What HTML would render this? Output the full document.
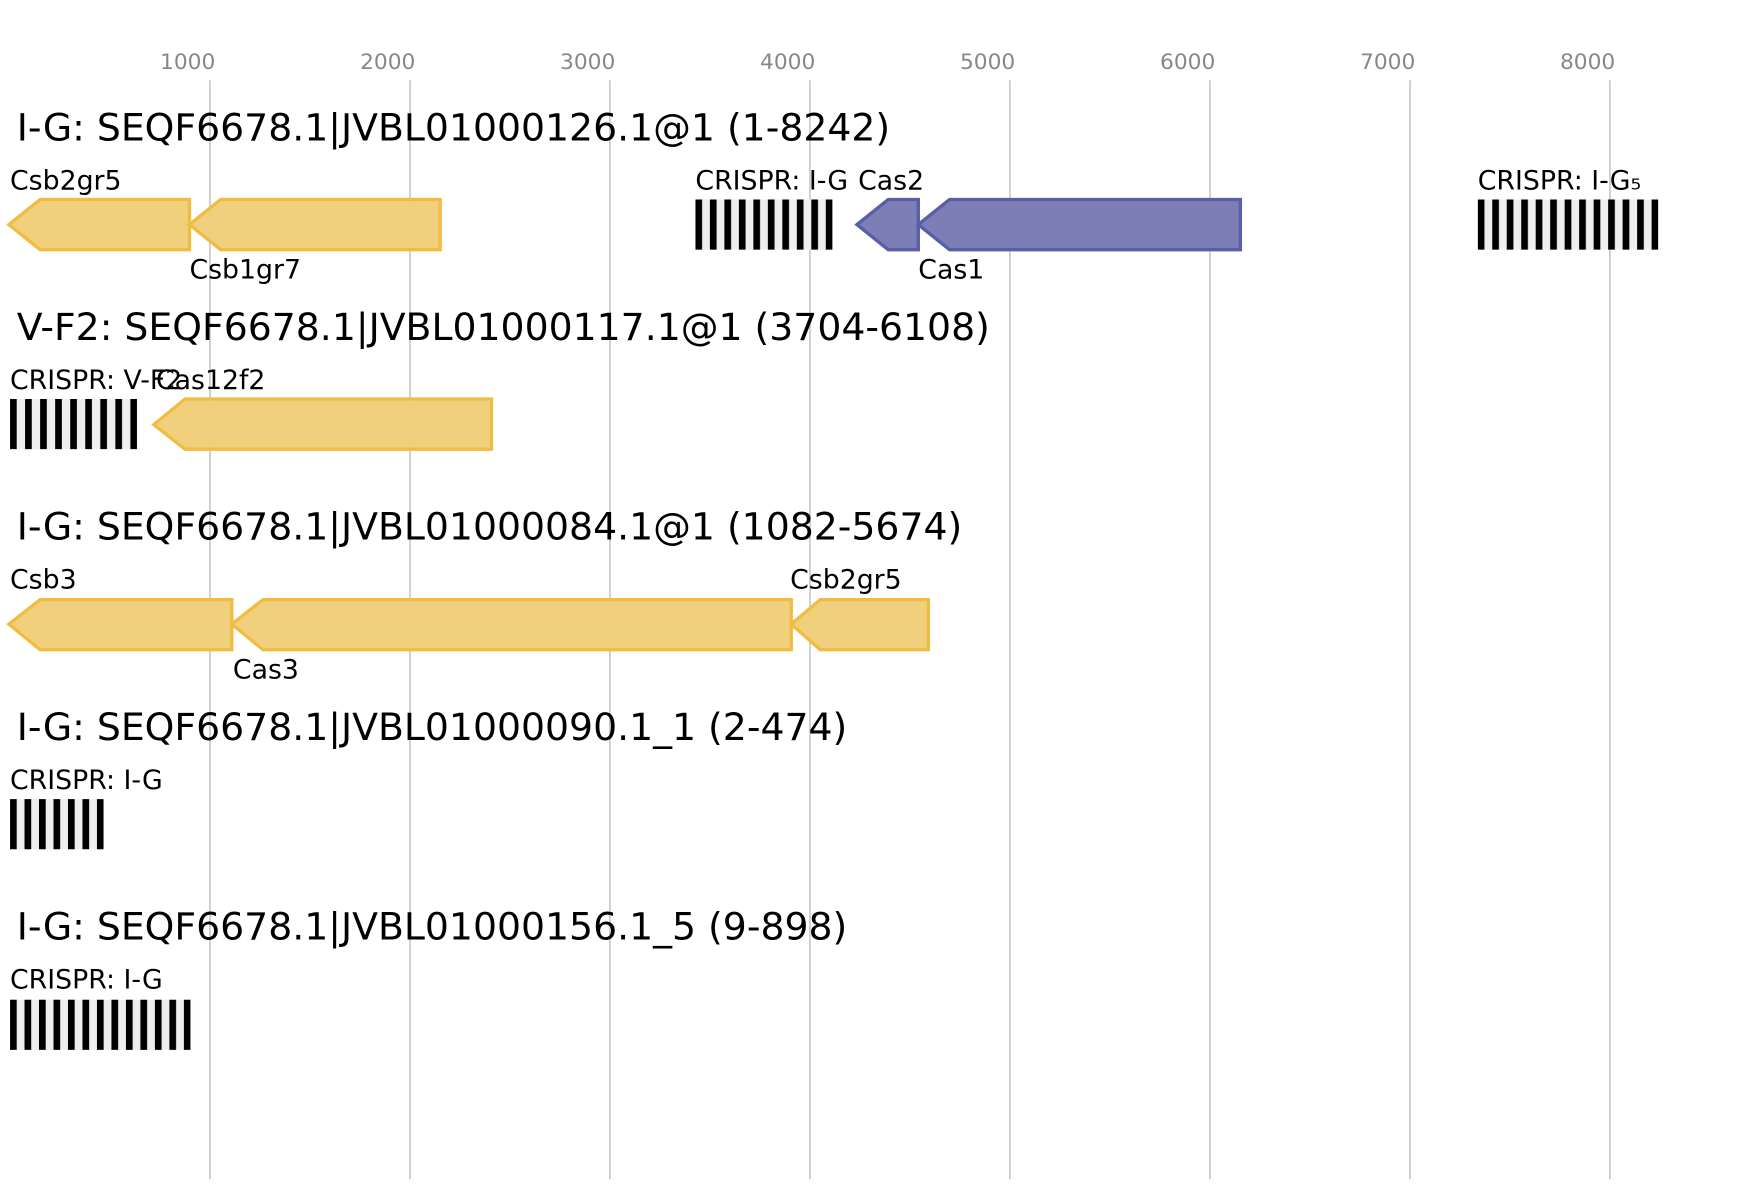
<!DOCTYPE html>
<html><head><meta charset="utf-8"><style>
html,body{margin:0;padding:0;background:#fff;}
svg{display:block;}
text{font-family:"DejaVu Sans","Liberation Sans",sans-serif;}
</style></head><body>
<svg width="1748" height="1200" viewBox="0 0 1568.5 1076.7" preserveAspectRatio="none" xmlns="http://www.w3.org/2000/svg">
<defs>
<pattern id="pa" x="624" y="0" width="13" height="50" patternUnits="userSpaceOnUse">
<rect x="0" y="0" width="13" height="50" fill="#eee"/><rect x="0" y="0" width="6" height="50" fill="#000"/>
</pattern>
<pattern id="pb" x="1326" y="0" width="13" height="50" patternUnits="userSpaceOnUse">
<rect x="0" y="0" width="13" height="50" fill="#eee"/><rect x="0" y="0" width="6" height="50" fill="#000"/>
</pattern>
<pattern id="pc" x="9" y="0" width="13" height="50" patternUnits="userSpaceOnUse">
<rect x="0" y="0" width="13" height="50" fill="#eee"/><rect x="0" y="0" width="6" height="50" fill="#000"/>
</pattern>
<pattern id="pd" x="9" y="0" width="13.5" height="50" patternUnits="userSpaceOnUse">
<rect x="0" y="0" width="13.5" height="50" fill="#eee"/><rect x="0" y="0" width="6" height="50" fill="#000"/>
</pattern>
</defs>
<g fill="#888" font-size="19.5" text-anchor="middle">
<text x="168.4" y="62">1000</text><text x="347.9" y="62">2000</text><text x="527.3" y="62">3000</text><text x="706.8" y="62">4000</text><text x="886.2" y="62">5000</text><text x="1065.7" y="62">6000</text><text x="1245.2" y="62">7000</text><text x="1424.6" y="62">8000</text>
</g>
<g stroke="#bbb" stroke-width="1.2">
<line x1="188.4" y1="72" x2="188.4" y2="1058"/><line x1="367.9" y1="72" x2="367.9" y2="1058"/><line x1="547.3" y1="72" x2="547.3" y2="1058"/><line x1="726.8" y1="72" x2="726.8" y2="1058"/><line x1="906.2" y1="72" x2="906.2" y2="1058"/><line x1="1085.7" y1="72" x2="1085.7" y2="1058"/><line x1="1265.2" y1="72" x2="1265.2" y2="1058"/><line x1="1444.6" y1="72" x2="1444.6" y2="1058"/>
</g>
<g font-size="33.9" fill="#000">
<text x="15" y="126">I-G: SEQF6678.1|JVBL01000126.1@1 (1-8242)</text>
<text x="15" y="305">V-F2: SEQF6678.1|JVBL01000117.1@1 (3704-6108)</text>
<text x="15" y="484">I-G: SEQF6678.1|JVBL01000084.1@1 (1082-5674)</text>
<text x="15" y="664">I-G: SEQF6678.1|JVBL01000090.1_1 (2-474)</text>
<text x="15" y="843">I-G: SEQF6678.1|JVBL01000156.1_5 (9-898)</text>
</g>
<g fill="#f0cd76" fill-opacity="0.95" stroke="#f0bc42" stroke-width="3">
<polygon points="8,201.5 36,179 170,179 170,224 36,224"/>
<polygon points="170,201.5 198,179 395,179 395,224 198,224"/>
<polygon points="138,381 166,358 441,358 441,403 166,403"/>
<polygon points="8,560 36,538 208,538 208,583 36,583"/>
<polygon points="208,560 236,538 710,538 710,583 236,583"/>
<polygon points="710,560 736,538 833,538 833,583 736,583"/>
</g>
<g fill="#7b7fb6" stroke="#5a5ea8" stroke-width="3">
<polygon points="769,201.5 797,179 824,179 824,224 797,224"/>
<polygon points="824,201.5 852,179 1113,179 1113,224 852,224"/>
</g>
<rect x="624" y="179" width="123" height="45" fill="url(#pa)"/>
<rect x="1326" y="179" width="162" height="45" fill="url(#pb)"/>
<rect x="9" y="358" width="114" height="45" fill="url(#pd)"/>
<rect x="9" y="717" width="84" height="45" fill="url(#pc)"/>
<rect x="9" y="897" width="162" height="45" fill="url(#pc)"/>
<g font-size="24" fill="#000">
<text x="9" y="170">Csb2gr5</text>
<text x="170" y="250">Csb1gr7</text>
<text x="624" y="170">CRISPR: I-G</text>
<text x="770" y="170">Cas2</text>
<text x="824" y="250">Cas1</text>
<text x="1326" y="170">CRISPR: I-G₅</text>
<text x="9" y="349">CRISPR: V-F2</text>
<text x="140" y="349">Cas12f2</text>
<text x="9" y="528">Csb3</text>
<text x="209" y="609">Cas3</text>
<text x="709" y="528">Csb2gr5</text>
<text x="9" y="708">CRISPR: I-G</text>
<text x="9" y="887">CRISPR: I-G</text>
</g>
</svg>
</body></html>
